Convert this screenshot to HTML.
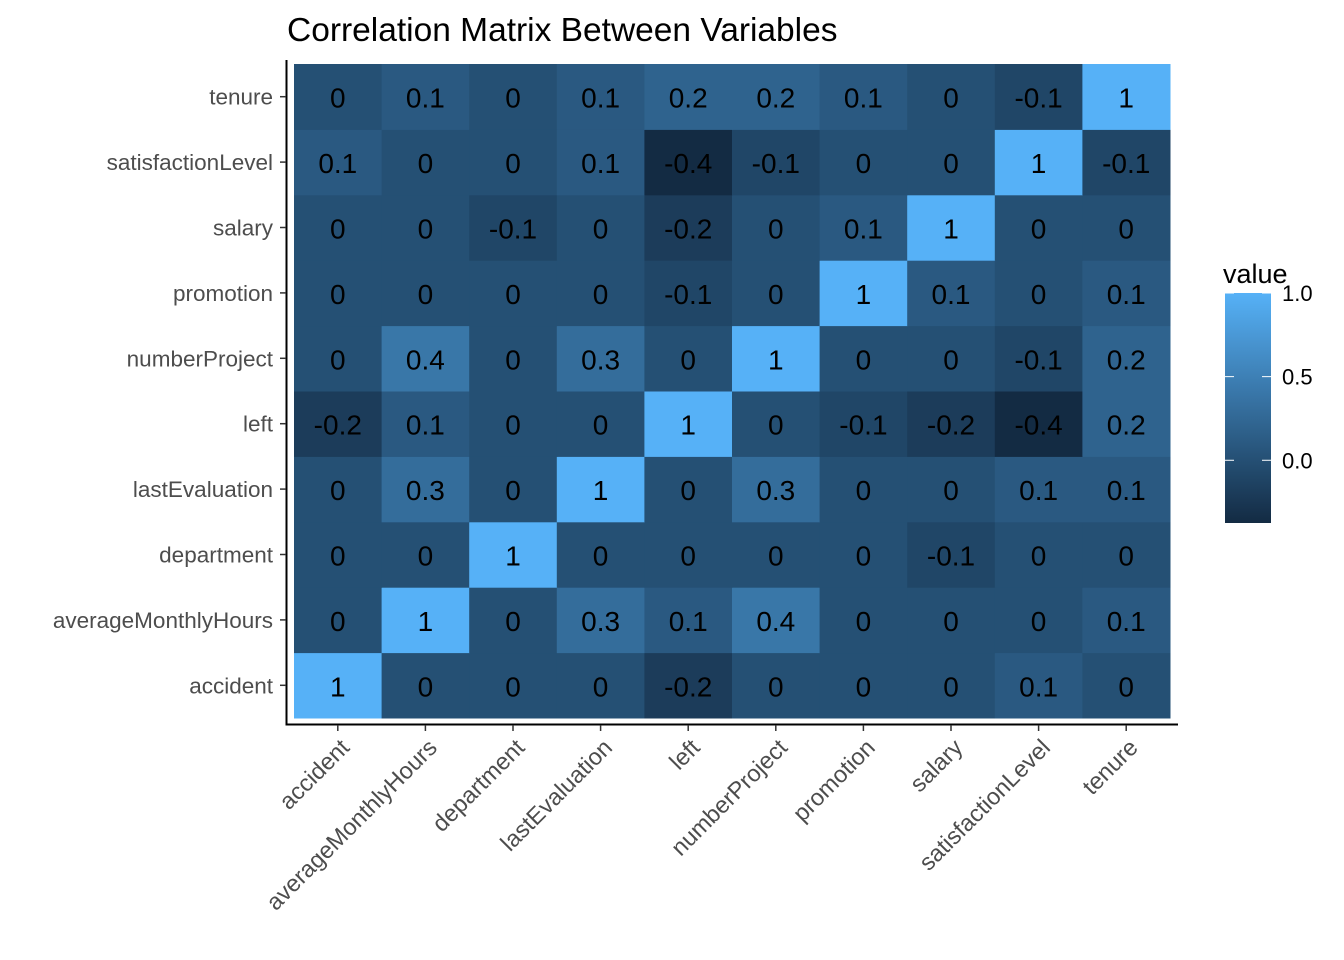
<!DOCTYPE html>
<html><head><meta charset="utf-8"><style>body{margin:0;background:#fff}svg{display:block;font-family:"Liberation Sans",Arial,sans-serif}</style></head>
<body>
<svg id="chart" width="1344" height="960"></svg>
<script>
const xCategories=["accident","averageMonthlyHours","department","lastEvaluation","left","numberProject","promotion","salary","satisfactionLevel","tenure"];
const yCategories=["accident","averageMonthlyHours","department","lastEvaluation","left","numberProject","promotion","salary","satisfactionLevel","tenure"];
const rowTenure=[0,0.1,0,0.1,0.2,0.2,0.1,0,-0.1,1];
const rowSatisfaction=[0.1,0,0,0.1,-0.4,-0.1,0,0,1,-0.1];
const rowSalary=[0,0,-0.1,0,-0.2,0,0.1,1,0,0];
const rowPromotion=[0,0,0,0,-0.1,0,1,0.1,0,0.1];
const rowNumberProject=[0,0.4,0,0.3,0,1,0,0,-0.1,0.2];
const rowLeft=[-0.2,0.1,0,0,1,0,-0.1,-0.2,-0.4,0.2];
const rowLastEvaluation=[0,0.3,0,1,0,0.3,0,0,0.1,0.1];
const rowDepartment=[0,0,1,0,0,0,0,-0.1,0,0];
const rowAvgHours=[0,1,0,0.3,0.1,0.4,0,0,0,0.1];
const rowAccident=[1,0,0,0,-0.2,0,0,0,0.1,0];
const legendTicks=[0,0.5,1.0];
const tickLabels=["0.0","0.5","1.0"];
const rows=[rowAccident,rowAvgHours,rowDepartment,rowLastEvaluation,rowLeft,rowNumberProject,rowPromotion,rowSalary,rowSatisfaction,rowTenure];

const NS="http://www.w3.org/2000/svg";
const svg=document.getElementById('chart');
function mk(t,a,p){const e=document.createElementNS(NS,t);for(const k in a)e.setAttribute(k,a[k]);(p||svg).appendChild(e);return e;}
const L=294,R=1170,T=64,B=718;
const cw=(R-L)/xCategories.length, ch=(B-T)/yCategories.length;
const xPos=i=>L+i*cw;
const yPos=j=>B-(j+1)*ch;
const vmin=-0.375,vmax=1;
function color(v){let t=(v-vmin)/(vmax-vmin);t=Math.max(0,Math.min(1,t));
 const a=[19,43,67],b=[86,177,247];
 return 'rgb('+a.map((c,i)=>Math.round(c+(b[i]-c)*t)).join(',')+')';}

const title=mk('text',{x:287,y:41,'font-size':33.5,fill:'#000'});title.textContent='Correlation Matrix Between Variables';



rows.forEach((row,j)=>row.forEach((v,i)=>{
 const r=mk('rect',{x:xPos(i),y:yPos(j),width:cw+0.5,height:ch+0.5,fill:color(v)});
 
 
 const t=mk('text',{x:xPos(i)+cw/2,y:yPos(j)+ch/2+11,'text-anchor':'middle','font-size':28,fill:'#000'});
 t.textContent=String(v);
 
 
}));

const axes=mk('path',{d:'M286.5,60V724.5H1178',stroke:'#000','stroke-width':2,fill:'none'});



yCategories.forEach((c,j)=>{
 const y=yPos(j)+ch/2;
 mk('line',{x1:280,x2:286,y1:y,y2:y,stroke:'#333','stroke-width':1.5});
 const t=mk('text',{x:273,y:y+8,'text-anchor':'end','font-size':22.5,fill:'#4d4d4d'});
 t.textContent=c;
 
 
});
xCategories.forEach((c,i)=>{
 const x=xPos(i)+cw/2;
 mk('line',{x1:x,x2:x,y1:725,y2:731,stroke:'#333','stroke-width':1.5});
 const t=mk('text',{x:x+13,y:749,'text-anchor':'end','font-size':23.5,fill:'#4d4d4d',transform:'rotate(-45 '+(x+13)+' 749)'});
 t.textContent=c;
 
 
});

// legend
const lt=mk('text',{x:1223,y:283,'font-size':27,fill:'#000'});lt.textContent='value';


const defs=mk('defs',{});
const g=mk('linearGradient',{id:'lg',x1:0,y1:1,x2:0,y2:0},defs);
for(let k=0;k<=10;k++){const v=vmin+(vmax-vmin)*k/10;mk('stop',{offset:k/10,'stop-color':color(v)},g);}
const lgTop=293,lgBot=523;
const ly=v=>lgBot-(v-vmin)/(vmax-vmin)*(lgBot-lgTop);
const bar=mk('rect',{x:1225,y:lgTop,width:46,height:lgBot-lgTop,fill:'url(#lg)'});


legendTicks.forEach((v,k)=>{
 const y=ly(v);
 mk('line',{x1:1225,x2:1234,y1:y,y2:y,stroke:'#fff','stroke-width':1});
 mk('line',{x1:1262,x2:1271,y1:y,y2:y,stroke:'#fff','stroke-width':1});
 const t=mk('text',{x:1282,y:y+8,'font-size':22,fill:'#000'});t.textContent=tickLabels[k];
 
 
});
</script>
</body></html>
